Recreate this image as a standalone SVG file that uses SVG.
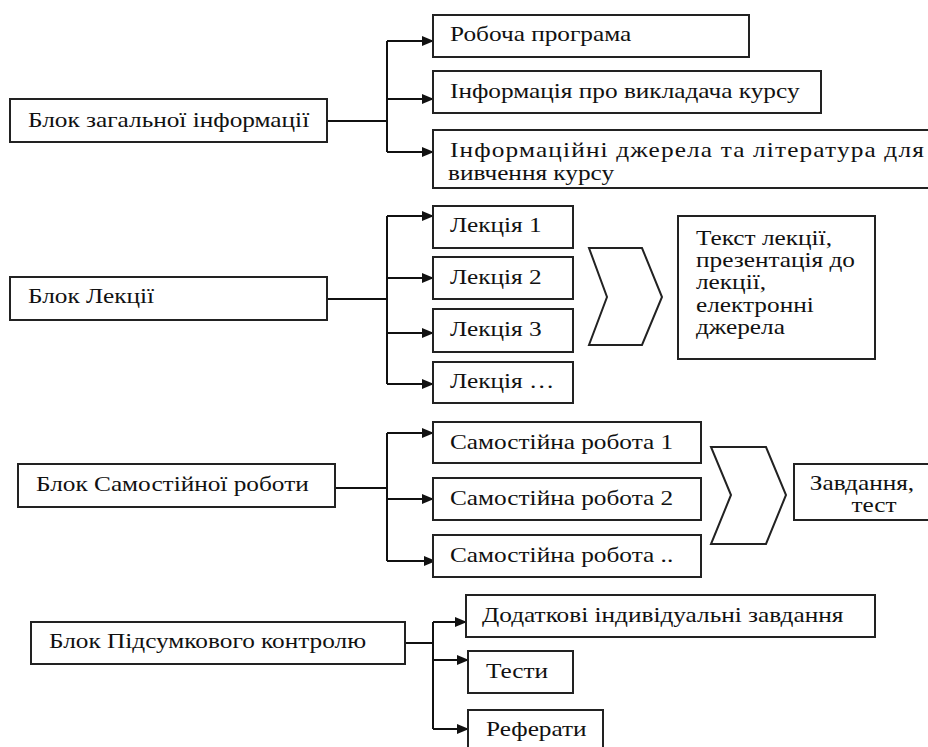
<svg xmlns="http://www.w3.org/2000/svg" width="928" height="747" viewBox="0 0 928 747">
<defs>
<marker id="ah" markerWidth="12" markerHeight="10" refX="11" refY="5" orient="auto" markerUnits="userSpaceOnUse">
<path d="M0,0 L12,5 L0,10 Z" fill="#111"/>
</marker>
</defs>
<style>
rect, polygon { fill: #fff; stroke: #222; stroke-width: 2; }
text { font-family: "Liberation Serif", "Times New Roman", serif; font-size: 22px; fill: #111; }
.c { fill: none; stroke: #111; stroke-width: 2; }
.a { fill: none; stroke: #111; stroke-width: 2; marker-end: url(#ah); }
</style>
<rect x="0" y="0" width="928" height="747" style="fill:#fff;stroke:none"/>

<g id="connectors">
<path class="c" d="M327,121 H387 M387,41 V152"/>
<path class="a" d="M387,41 H433"/>
<path class="a" d="M387,99 H433"/>
<path class="a" d="M387,152 H433"/>

<path class="c" d="M327,299 H387 M387,216 V384"/>
<path class="a" d="M387,216 H433"/>
<path class="a" d="M387,278 H433"/>
<path class="a" d="M387,333 H433"/>
<path class="a" d="M387,384 H433"/>

<path class="c" d="M335,488 H387 M387,433 V561"/>
<path class="a" d="M387,433 H433"/>
<path class="a" d="M387,499 H433"/>
<path class="a" d="M387,561 H435"/>

<path class="c" d="M405,643 H433 M433,622 V729"/>
<path class="a" d="M433,622 H466"/>
<path class="a" d="M433,660 H468"/>
<path class="a" d="M433,729 H468"/>
</g>

<g id="n-general"><rect x="10" y="99" width="317" height="43"/><text transform="translate(28,127) scale(1.15,1)">Блок загальної інформації</text></g>
<g id="n-program"><rect x="433" y="15" width="316" height="42"/><text transform="translate(450,41) scale(1.15,1)">Робоча програма</text></g>
<g id="n-teacher"><rect x="433" y="71" width="388" height="42"/><text transform="translate(450,98) scale(1.15,1)">Інформація про викладача курсу</text></g>
<g id="n-sources"><rect x="433" y="130" width="500" height="58"/><text transform="translate(450,157) scale(1.15,1)" textLength="412" lengthAdjust="spacing">Інформаційні джерела та література для</text><text transform="translate(448,180) scale(1.15,1)">вивчення курсу</text></g>

<g id="n-lectures"><rect x="10" y="277" width="317" height="43"/><text transform="translate(28,303) scale(1.15,1)">Блок Лекції</text></g>
<g id="n-l1"><rect x="433" y="206" width="140" height="42"/><text transform="translate(450,232) scale(1.15,1)">Лекція 1</text></g>
<g id="n-l2"><rect x="433" y="257" width="140" height="42"/><text transform="translate(450,284) scale(1.15,1)">Лекція 2</text></g>
<g id="n-l3"><rect x="433" y="309" width="140" height="43"/><text transform="translate(450,336) scale(1.15,1)">Лекція 3</text></g>
<g id="n-l4"><rect x="433" y="362" width="140" height="41"/><text transform="translate(450,388) scale(1.15,1)">Лекція …</text></g>
<g id="n-chev1"><polygon points="589,248 642,248 662,297 642,345 589,345 607,297"/></g>
<g id="n-lecture-content"><rect x="678" y="216" width="197" height="143"/>
<text transform="translate(696,245) scale(1.15,1)">Текст лекції,</text>
<text transform="translate(696,267) scale(1.15,1)">презентація  до</text>
<text transform="translate(696,289) scale(1.15,1)">лекції,</text>
<text transform="translate(696,312) scale(1.15,1)">електронні</text>
<text transform="translate(696,334) scale(1.15,1)">джерела</text></g>

<g id="n-self"><rect x="18" y="464" width="317" height="43"/><text transform="translate(36,491) scale(1.15,1)">Блок Самостійної роботи</text></g>
<g id="n-s1"><rect x="433" y="422" width="268" height="41"/><text transform="translate(450,449) scale(1.15,1)">Самостійна робота 1</text></g>
<g id="n-s2"><rect x="433" y="478" width="268" height="42"/><text transform="translate(450,505) scale(1.15,1)">Самостійна робота 2</text></g>
<g id="n-s3"><rect x="433" y="535" width="268" height="42"/><text transform="translate(450,562) scale(1.15,1)">Самостійна робота ..</text></g>
<g id="n-chev2"><polygon points="711,447 766,447 786,495 766,544 711,544 731,495"/></g>
<g id="n-task"><rect x="794" y="464" width="140" height="56"/><text transform="translate(862,490) scale(1.15,1)" text-anchor="middle">Завдання,</text><text transform="translate(874,512) scale(1.15,1)" text-anchor="middle">тест</text></g>

<g id="n-final"><rect x="31" y="622" width="374" height="42"/><text transform="translate(49,648) scale(1.15,1)">Блок Підсумкового контролю</text></g>
<g id="n-extra"><rect x="466" y="595" width="409" height="42"/><text transform="translate(482,622) scale(1.15,1)">Додаткові індивідуальні завдання</text></g>
<g id="n-tests"><rect x="468" y="651" width="105" height="42"/><text transform="translate(486,678) scale(1.15,1)">Тести</text></g>
<g id="n-essays"><rect x="468" y="710" width="135" height="50"/><text transform="translate(486,736) scale(1.15,1)">Реферати</text></g>
</svg>
